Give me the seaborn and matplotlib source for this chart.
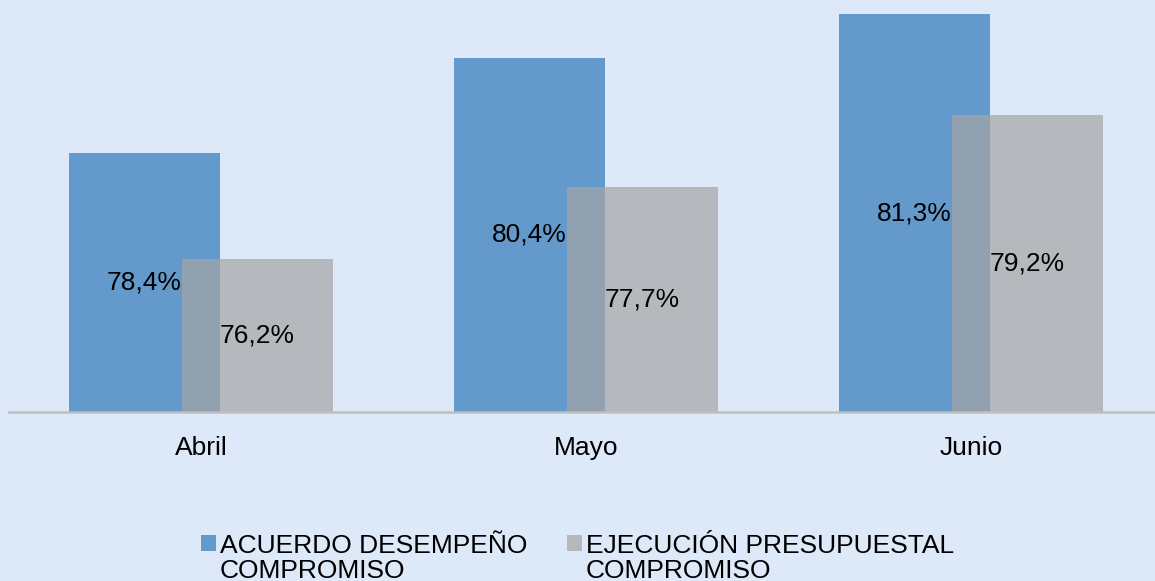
import matplotlib
matplotlib.use("Agg")
import matplotlib.pyplot as plt
from matplotlib.patches import Rectangle, Patch
from matplotlib.legend_handler import HandlerPatch
import seaborn as sns
import pandas as pd

# ---- data ----
meses = ["Abril", "Mayo", "Junio"]
acuerdo_desempeno = [78.4, 80.4, 81.3]
ejecucion_presupuestal = [76.2, 77.7, 79.2]
series = ["ACUERDO DESEMPEÑO\nCOMPROMISO", "EJECUCIÓN PRESUPUESTAL\nCOMPROMISO"]

BG = "#DDE8F8"
BLUE = "#6399CB"
GRAY = "#A5A5A5"
GRAY_ALPHA = 0.7
FONT = ["Liberation Sans", "DejaVu Sans"]

df = pd.DataFrame({
    "mes": meses * 2,
    "valor": acuerdo_desempeno + ejecucion_presupuestal,
    "serie": [series[0]] * len(meses) + [series[1]] * len(meses),
})

sns.set_theme(style="white")
plt.rcParams["font.family"] = FONT
plt.rcParams["text.color"] = "black"

W, H = 1155, 581
fig = plt.figure(figsize=(W / 100, H / 100), dpi=100, facecolor=BG)

# axes placement in pixels
ax_left_px, ax_bottom_px, ax_top_px = 9, H - 412, 0
ax = fig.add_axes([ax_left_px / W, ax_bottom_px / H, 1 - ax_left_px / W, (H - ax_top_px - ax_bottom_px) / H])
ax.set_facecolor(BG)

sns.barplot(data=df, x="mes", y="valor", hue="serie", palette=[BLUE, GRAY],
            saturation=1, width=0.5872, gap=-0.335, ax=ax, legend=False,
            linewidth=0, errorbar=None)

for p in ax.containers[1]:
    p.set_alpha(GRAY_ALPHA)

ymin = 73.0
px_per_unit = 47.9
ax.set_ylim(ymin, ymin + 412 / px_per_unit)
cat_px = 385.0
first_center_px = 201.0
ax.set_xlim(-(first_center_px - ax_left_px) / cat_px, (W - first_center_px) / cat_px)

# value labels, centered in the visible part of each bar
for cont, vals in zip(ax.containers, [acuerdo_desempeno, ejecucion_presupuestal]):
    for p, v in zip(cont, vals):
        xc = p.get_x() + p.get_width() / 2
        yc = (ymin + v) / 2
        ax.text(xc, yc, f"{v:.1f}%".replace(".", ","), ha="center", va="center",
                fontsize=19, color="black", zorder=5)

# axes cosmetics
for s in ["left", "right", "top"]:
    ax.spines[s].set_visible(False)
ax.spines["bottom"].set_color("#BFBFBF")
ax.spines["bottom"].set_linewidth(1.8)
ax.set_xlabel("")
ax.set_ylabel("")
ax.set_yticks([])
ax.tick_params(axis="x", length=0, pad=17.5, labelsize=19, labelcolor="black")

# legend with marker aligned to first text line
SHIFT = 11.0


def top_square(legend, orig_handle, xdescent, ydescent, width, height, fontsize):
    return Rectangle(xy=(-xdescent, -ydescent + SHIFT), width=width, height=height)


handles = [Patch(facecolor=BLUE, edgecolor="none", linewidth=0),
           Patch(facecolor=GRAY, edgecolor="none", linewidth=0, alpha=GRAY_ALPHA)]
leg = fig.legend(handles, series, loc="lower center", bbox_to_anchor=(0.5, -0.003),
                 ncol=2, frameon=False, fontsize=19, handlelength=0.57, handleheight=0.57,
                 handletextpad=0.15, columnspacing=1.5, borderpad=0, borderaxespad=0,
                 handler_map={Patch: HandlerPatch(patch_func=top_square)})
for t in leg.get_texts():
    t.set_linespacing(1.03)
    t.set_color("black")

fig.savefig("out.png", dpi=100, facecolor=BG)
